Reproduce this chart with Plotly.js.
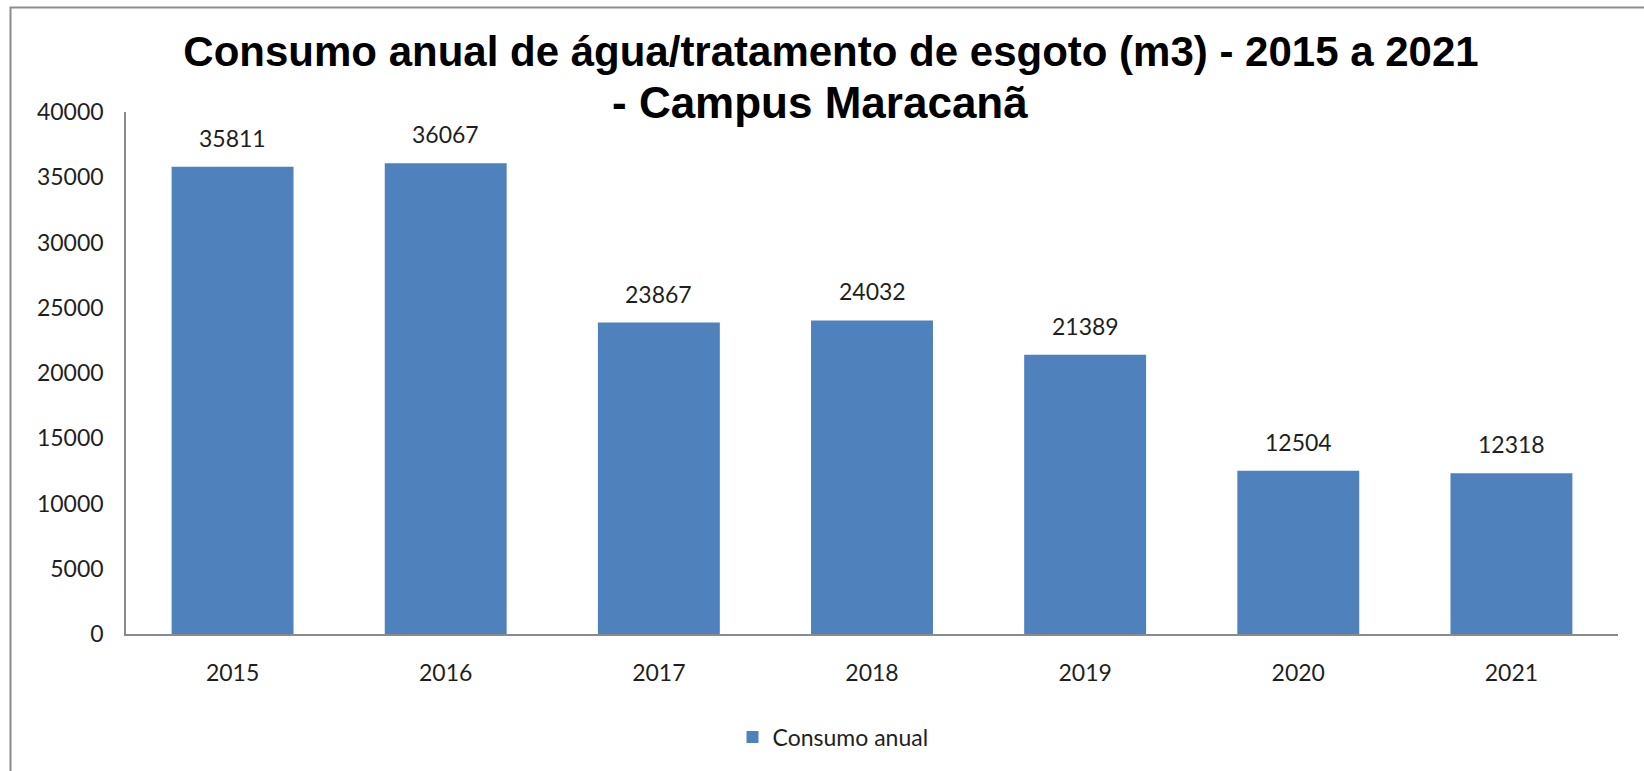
<!DOCTYPE html>
<html>
<head>
<meta charset="utf-8">
<script src="https://cdn.plot.ly/plotly-3.0.1.min.js"></script>
<style>
html, body { margin: 0; padding: 0; background: #ffffff; }
#chart { width: 1644px; height: 771px; }
</style>
</head>
<body>
<div id="chart"></div>
<script>
const years = ["2015", "2016", "2017", "2018", "2019", "2020", "2021"];
const consumo = [35811, 36067, 23867, 24032, 21389, 12504, 12318];
const seriesName = "Consumo anual";
const yTicks = [0, 5000, 10000, 15000, 20000, 25000, 30000, 35000, 40000];
const titleLine1 = "Consumo anual de água/tratamento de esgoto (m3) - 2015 a 2021";
const titleLine2 = "- Campus Maracanã";

const labelFont = { family: "Lato, 'Open Sans', sans-serif", size: 23, color: "#1f1f1f" };
const titleFont = { family: "'Liberation Sans', Arial, sans-serif", size: 42, color: "#000000", weight: "bold" };
const titleFont2 = { family: "'Liberation Sans', Arial, sans-serif", size: 44, color: "#000000", weight: "bold" };

const trace = {
  type: "bar",
  x: years,
  y: consumo,
  name: seriesName,
  marker: { color: "#4F81BD", line: { width: 0 } },
  hoverinfo: "x+y",
  showlegend: true
};

const L = 126, R = 1618, T = 112, B = 634;
const pw = R - L, ph = B - T;
const px2x = p => (p - L) / pw;
const py2y = p => (B - p) / ph;

// value labels above bars (category axis: positions by category index)
const annotations = years.map((yr, i) => ({
  x: i,
  y: consumo[i],
  xref: "x",
  yref: "y",
  text: String(consumo[i]),
  showarrow: false,
  yanchor: "middle",
  yshift: 29,
  font: labelFont
}));

// second title line
annotations.push({
  xref: "paper",
  yref: "paper",
  x: px2x(820),
  y: py2y(129),
  xanchor: "center",
  yanchor: "bottom",
  text: titleLine2,
  showarrow: false,
  font: titleFont2
});

const layout = {
  width: 1644,
  height: 771,
  margin: { l: L, r: 1644 - R, t: T, b: 771 - B, pad: 0 },
  paper_bgcolor: "#ffffff",
  plot_bgcolor: "#ffffff",
  title: {
    text: titleLine1,
    font: titleFont,
    xref: "container",
    yref: "container",
    x: 831 / 1644,
    xanchor: "center",
    y: 1 - 37 / 771,
    yanchor: "top"
  },
  bargap: 0.428,
  xaxis: {
    type: "category",
    showline: true,
    linecolor: "#8a8a8a",
    linewidth: 1.5,
    showgrid: false,
    zeroline: false,
    ticks: "",
    tickfont: labelFont,
    ticklabelstandoff: 18,
    fixedrange: true
  },
  yaxis: {
    range: [0, 40000],
    tickvals: yTicks,
    ticktext: yTicks.map(String),
    showline: true,
    linecolor: "#8a8a8a",
    linewidth: 1.5,
    showgrid: false,
    zeroline: false,
    ticks: "",
    tickfont: labelFont,
    ticklabelstandoff: 16,
    fixedrange: true
  },
  legend: {
    orientation: "h",
    x: px2x(833),
    xanchor: "center",
    y: py2y(737),
    yanchor: "middle",
    font: labelFont,
    bgcolor: "rgba(0,0,0,0)"
  },
  annotations: annotations,
  shapes: [{
    type: "rect",
    xref: "paper",
    yref: "paper",
    x0: px2x(10.5),
    x1: px2x(1660),
    y0: py2y(790),
    y1: py2y(7.5),
    line: { color: "#8c8c8c", width: 2 },
    fillcolor: "rgba(0,0,0,0)",
    layer: "above"
  }]
};

Plotly.newPlot("chart", [trace], layout, { displayModeBar: false });
</script>
</body>
</html>
